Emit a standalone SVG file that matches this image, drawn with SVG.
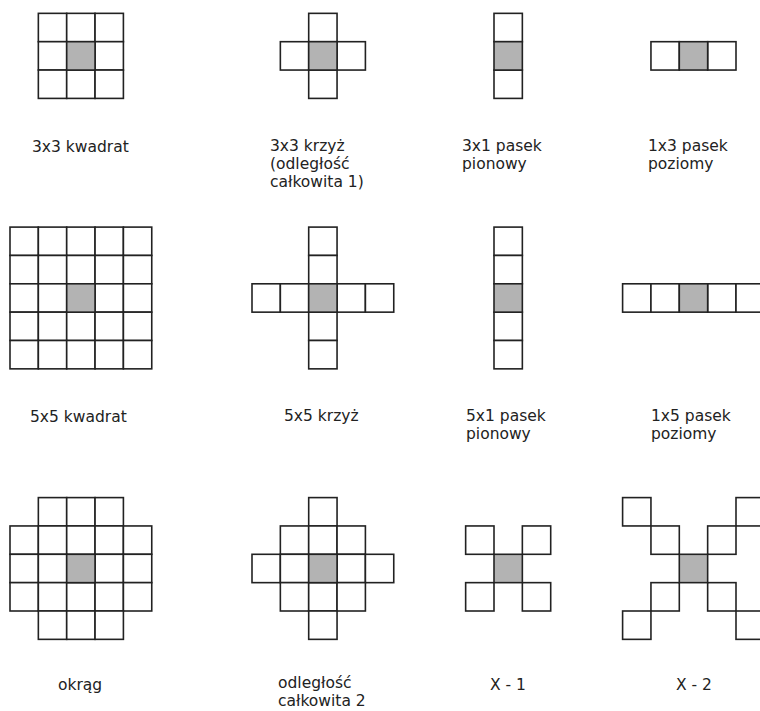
<svg xmlns="http://www.w3.org/2000/svg" xmlns:xlink="http://www.w3.org/1999/xlink" width="760" height="711" viewBox="0 0 760 711">
<style>
.c{fill:#fff;stroke:#222;stroke-width:1.6}
.g{fill:#b3b3b3;stroke:#222;stroke-width:1.6}
text{font-family:"DejaVu Sans","Liberation Sans",sans-serif;font-size:15.5px;fill:#222}
</style>
<defs>
<rect id="c" width="28.35" height="28.35"/>
</defs>
<rect width="760" height="711" fill="#fff"/>
<g id="sq3x3">
<use href="#c" class="c" x="38.35" y="13.35"/><use href="#c" class="c" x="66.7" y="13.35"/><use href="#c" class="c" x="95.05" y="13.35"/>
<use href="#c" class="c" x="38.35" y="41.7"/><use href="#c" class="c" x="95.05" y="41.7"/>
<use href="#c" class="c" x="38.35" y="70.05"/><use href="#c" class="c" x="66.7" y="70.05"/><use href="#c" class="c" x="95.05" y="70.05"/>
<use href="#c" class="g" x="66.7" y="41.7"/>
<text x="32" y="152">3x3 kwadrat</text>
</g>
<g id="cross3x3">
<use href="#c" class="c" x="308.7" y="13.35"/>
<use href="#c" class="c" x="280.35" y="41.7"/><use href="#c" class="c" x="337.05" y="41.7"/>
<use href="#c" class="c" x="308.7" y="70.05"/>
<use href="#c" class="g" x="308.7" y="41.7"/>
<text x="270" y="151">3x3 krzyż</text>
<text x="270" y="169">(odległość</text>
<text x="270" y="187">całkowita 1)</text>
</g>
<g id="vbar3x1">
<use href="#c" class="c" x="494" y="13.35"/>
<use href="#c" class="c" x="494" y="70.05"/>
<use href="#c" class="g" x="494" y="41.7"/>
<text x="462" y="151">3x1 pasek</text>
<text x="462" y="169">pionowy</text>
</g>
<g id="hbar1x3">
<use href="#c" class="c" x="650.95" y="41.7"/>
<use href="#c" class="c" x="707.65" y="41.7"/>
<use href="#c" class="g" x="679.3" y="41.7"/>
<text x="648" y="151">1x3 pasek</text>
<text x="648" y="169">poziomy</text>
</g>
<g id="sq5x5">
<use href="#c" class="c" x="10" y="227.1"/><use href="#c" class="c" x="38.35" y="227.1"/><use href="#c" class="c" x="66.7" y="227.1"/><use href="#c" class="c" x="95.05" y="227.1"/><use href="#c" class="c" x="123.4" y="227.1"/>
<use href="#c" class="c" x="10" y="255.45"/><use href="#c" class="c" x="38.35" y="255.45"/><use href="#c" class="c" x="66.7" y="255.45"/><use href="#c" class="c" x="95.05" y="255.45"/><use href="#c" class="c" x="123.4" y="255.45"/>
<use href="#c" class="c" x="10" y="283.8"/><use href="#c" class="c" x="38.35" y="283.8"/><use href="#c" class="c" x="95.05" y="283.8"/><use href="#c" class="c" x="123.4" y="283.8"/>
<use href="#c" class="c" x="10" y="312.15"/><use href="#c" class="c" x="38.35" y="312.15"/><use href="#c" class="c" x="66.7" y="312.15"/><use href="#c" class="c" x="95.05" y="312.15"/><use href="#c" class="c" x="123.4" y="312.15"/>
<use href="#c" class="c" x="10" y="340.5"/><use href="#c" class="c" x="38.35" y="340.5"/><use href="#c" class="c" x="66.7" y="340.5"/><use href="#c" class="c" x="95.05" y="340.5"/><use href="#c" class="c" x="123.4" y="340.5"/>
<use href="#c" class="g" x="66.7" y="283.8"/>
<text x="30" y="422">5x5 kwadrat</text>
</g>
<g id="cross5x5">
<use href="#c" class="c" x="308.7" y="227.1"/>
<use href="#c" class="c" x="308.7" y="255.45"/>
<use href="#c" class="c" x="252" y="283.8"/><use href="#c" class="c" x="280.35" y="283.8"/><use href="#c" class="c" x="337.05" y="283.8"/><use href="#c" class="c" x="365.4" y="283.8"/>
<use href="#c" class="c" x="308.7" y="312.15"/>
<use href="#c" class="c" x="308.7" y="340.5"/>
<use href="#c" class="g" x="308.7" y="283.8"/>
<text x="284" y="421">5x5 krzyż</text>
</g>
<g id="vbar5x1">
<use href="#c" class="c" x="494" y="227.1"/>
<use href="#c" class="c" x="494" y="255.45"/>
<use href="#c" class="c" x="494" y="312.15"/>
<use href="#c" class="c" x="494" y="340.5"/>
<use href="#c" class="g" x="494" y="283.8"/>
<text x="466" y="421">5x1 pasek</text>
<text x="466" y="439">pionowy</text>
</g>
<g id="hbar1x5">
<use href="#c" class="c" x="622.6" y="283.8"/>
<use href="#c" class="c" x="650.95" y="283.8"/>
<use href="#c" class="c" x="707.65" y="283.8"/>
<use href="#c" class="c" x="736" y="283.8"/>
<use href="#c" class="g" x="679.3" y="283.8"/>
<text x="651" y="421">1x5 pasek</text>
<text x="651" y="439">poziomy</text>
</g>
<g id="circle">
<use href="#c" class="c" x="38.35" y="497.6"/><use href="#c" class="c" x="66.7" y="497.6"/><use href="#c" class="c" x="95.05" y="497.6"/>
<use href="#c" class="c" x="10" y="525.95"/><use href="#c" class="c" x="38.35" y="525.95"/><use href="#c" class="c" x="66.7" y="525.95"/><use href="#c" class="c" x="95.05" y="525.95"/><use href="#c" class="c" x="123.4" y="525.95"/>
<use href="#c" class="c" x="10" y="554.3"/><use href="#c" class="c" x="38.35" y="554.3"/><use href="#c" class="c" x="95.05" y="554.3"/><use href="#c" class="c" x="123.4" y="554.3"/>
<use href="#c" class="c" x="10" y="582.65"/><use href="#c" class="c" x="38.35" y="582.65"/><use href="#c" class="c" x="66.7" y="582.65"/><use href="#c" class="c" x="95.05" y="582.65"/><use href="#c" class="c" x="123.4" y="582.65"/>
<use href="#c" class="c" x="38.35" y="611"/><use href="#c" class="c" x="66.7" y="611"/><use href="#c" class="c" x="95.05" y="611"/>
<use href="#c" class="g" x="66.7" y="554.3"/>
<text x="58" y="690">okrąg</text>
</g>
<g id="diamond">
<use href="#c" class="c" x="308.7" y="497.6"/>
<use href="#c" class="c" x="280.35" y="525.95"/><use href="#c" class="c" x="308.7" y="525.95"/><use href="#c" class="c" x="337.05" y="525.95"/>
<use href="#c" class="c" x="252" y="554.3"/><use href="#c" class="c" x="280.35" y="554.3"/><use href="#c" class="c" x="337.05" y="554.3"/><use href="#c" class="c" x="365.4" y="554.3"/>
<use href="#c" class="c" x="280.35" y="582.65"/><use href="#c" class="c" x="308.7" y="582.65"/><use href="#c" class="c" x="337.05" y="582.65"/>
<use href="#c" class="c" x="308.7" y="611"/>
<use href="#c" class="g" x="308.7" y="554.3"/>
<text x="278" y="688">odległość</text>
<text x="278" y="706">całkowita 2</text>
</g>
<g id="x1">
<use href="#c" class="c" x="465.65" y="525.95"/><use href="#c" class="c" x="522.35" y="525.95"/>
<use href="#c" class="c" x="465.65" y="582.65"/><use href="#c" class="c" x="522.35" y="582.65"/>
<use href="#c" class="g" x="494" y="554.3"/>
<text x="490" y="690">X - 1</text>
</g>
<g id="x2">
<use href="#c" class="c" x="622.6" y="497.6"/><use href="#c" class="c" x="736" y="497.6"/>
<use href="#c" class="c" x="650.95" y="525.95"/><use href="#c" class="c" x="707.65" y="525.95"/>
<use href="#c" class="c" x="650.95" y="582.65"/><use href="#c" class="c" x="707.65" y="582.65"/>
<use href="#c" class="c" x="622.6" y="611"/><use href="#c" class="c" x="736" y="611"/>
<use href="#c" class="g" x="679.3" y="554.3"/>
<text x="676" y="690">X - 2</text>
</g>
<g id="connectors"/>
</svg>
